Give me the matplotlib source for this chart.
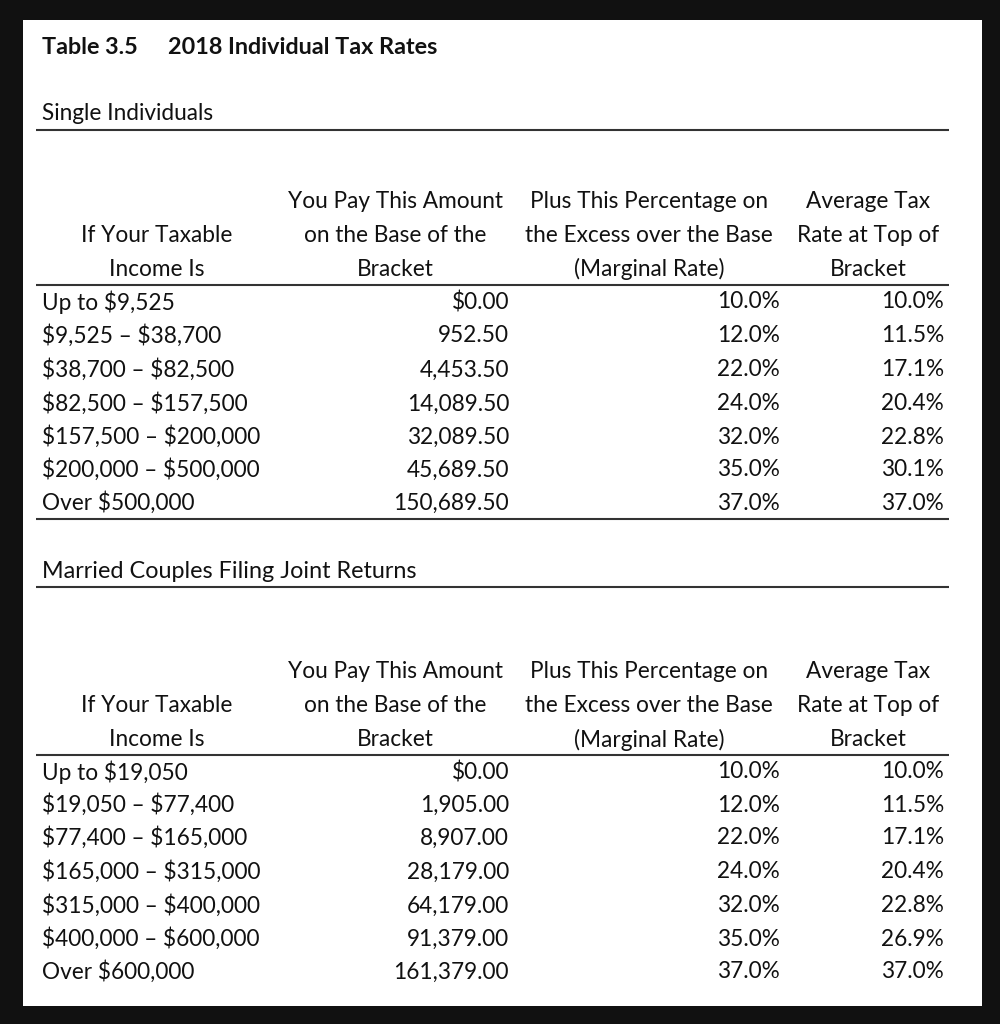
import matplotlib
matplotlib.use("Agg")
import matplotlib.pyplot as plt
from matplotlib.patches import Rectangle

plt.rcParams["text.parse_math"] = False
FONT = ["Lato", "DejaVu Sans"]

title_num = "Table 3.5"
title_text = "2018 Individual Tax Rates"

header_cols = [
    ["If Your Taxable", "Income Is"],
    ["You Pay This Amount", "on the Base of the", "Bracket"],
    ["Plus This Percentage on", "the Excess over the Base", "(Marginal Rate)"],
    ["Average Tax", "Rate at Top of", "Bracket"],
]

single_title = "Single Individuals"
single_brackets = ["Up to $9,525", "$9,525 – $38,700", "$38,700 – $82,500",
                   "$82,500 – $157,500", "$157,500 – $200,000",
                   "$200,000 – $500,000", "Over $500,000"]
single_base = ["$0.00", "952.50", "4,453.50", "14,089.50", "32,089.50",
               "45,689.50", "150,689.50"]
single_marginal = ["10.0%", "12.0%", "22.0%", "24.0%", "32.0%", "35.0%", "37.0%"]
single_average = ["10.0%", "11.5%", "17.1%", "20.4%", "22.8%", "30.1%", "37.0%"]

married_title = "Married Couples Filing Joint Returns"
married_brackets = ["Up to $19,050", "$19,050 – $77,400", "$77,400 – $165,000",
                    "$165,000 – $315,000", "$315,000 – $400,000",
                    "$400,000 – $600,000", "Over $600,000"]
married_base = ["$0.00", "1,905.00", "8,907.00", "28,179.00", "64,179.00",
                "91,379.00", "161,379.00"]
married_marginal = ["10.0%", "12.0%", "22.0%", "24.0%", "32.0%", "35.0%", "37.0%"]
married_average = ["10.0%", "11.5%", "17.1%", "20.4%", "22.8%", "26.9%", "37.0%"]

fig = plt.figure(figsize=(10, 10.24), dpi=100)
fig.patch.set_facecolor("#111111")
ax = fig.add_axes([0, 0, 1, 1])
ax.set_xlim(0, 1000)
ax.set_ylim(1024, 0)
ax.axis("off")

ax.add_patch(Rectangle((23, 20), 959, 986, facecolor="white", edgecolor="none"))

TXT = "#111111"
LINE = "#333333"
FS = 16.3
LX, RX = 36, 949

ax.text(42, 47, title_num, fontsize=16.8, fontweight="bold", family=FONT,
        color=TXT, va="center", ha="left")
ax.text(168, 47, title_text, fontsize=16.8, fontweight="bold", family=FONT,
        color=TXT, va="center", ha="left")

col_centers = [157, 395, 649, 868]
col_right = [None, 509, 780, 944]


def draw_section(title, y_title, y_rule1, header_ys, y_rule2, row_ys,
                 brackets, base, marginal, average, y_bottom, title_fs):
    ax.text(42, y_title, title, fontsize=title_fs, family=FONT, color=TXT,
            va="center", ha="left")
    ax.plot([LX, RX], [y_rule1, y_rule1], color=LINE, lw=1.5,
            solid_capstyle="butt")
    for ci, lines in enumerate(header_cols):
        ys = header_ys[-len(lines):]
        for line, y in zip(lines, ys):
            ax.text(col_centers[ci], y, line, fontsize=FS, family=FONT,
                    color=TXT, va="center", ha="center")
    ax.plot([LX, RX], [y_rule2, y_rule2], color=LINE, lw=1.5,
            solid_capstyle="butt")
    for i, y in enumerate(row_ys):
        ax.text(42, y, brackets[i], fontsize=FS, family=FONT, color=TXT,
                va="center", ha="left")
        ax.text(col_right[1], y, base[i], fontsize=FS, family=FONT, color=TXT,
                va="center", ha="right")
        ax.text(col_right[2], y, marginal[i], fontsize=FS, family=FONT,
                color=TXT, va="center", ha="right")
        ax.text(col_right[3], y, average[i], fontsize=FS, family=FONT,
                color=TXT, va="center", ha="right")
    if y_bottom is not None:
        ax.plot([LX, RX], [y_bottom, y_bottom], color=LINE, lw=1.5,
                solid_capstyle="butt")


draw_section(single_title, 114, 130, [202, 236, 269], 285,
             [302, 336, 370, 404, 437, 470, 503],
             single_brackets, single_base, single_marginal, single_average, 519,
             16.3)
draw_section(married_title, 572, 587, [671, 705, 740], 755,
             [772, 805, 838, 872, 906, 939, 972],
             married_brackets, married_base, married_marginal, married_average,
             None, 16.8)

fig.savefig("out.png", dpi=100, facecolor=fig.get_facecolor())
